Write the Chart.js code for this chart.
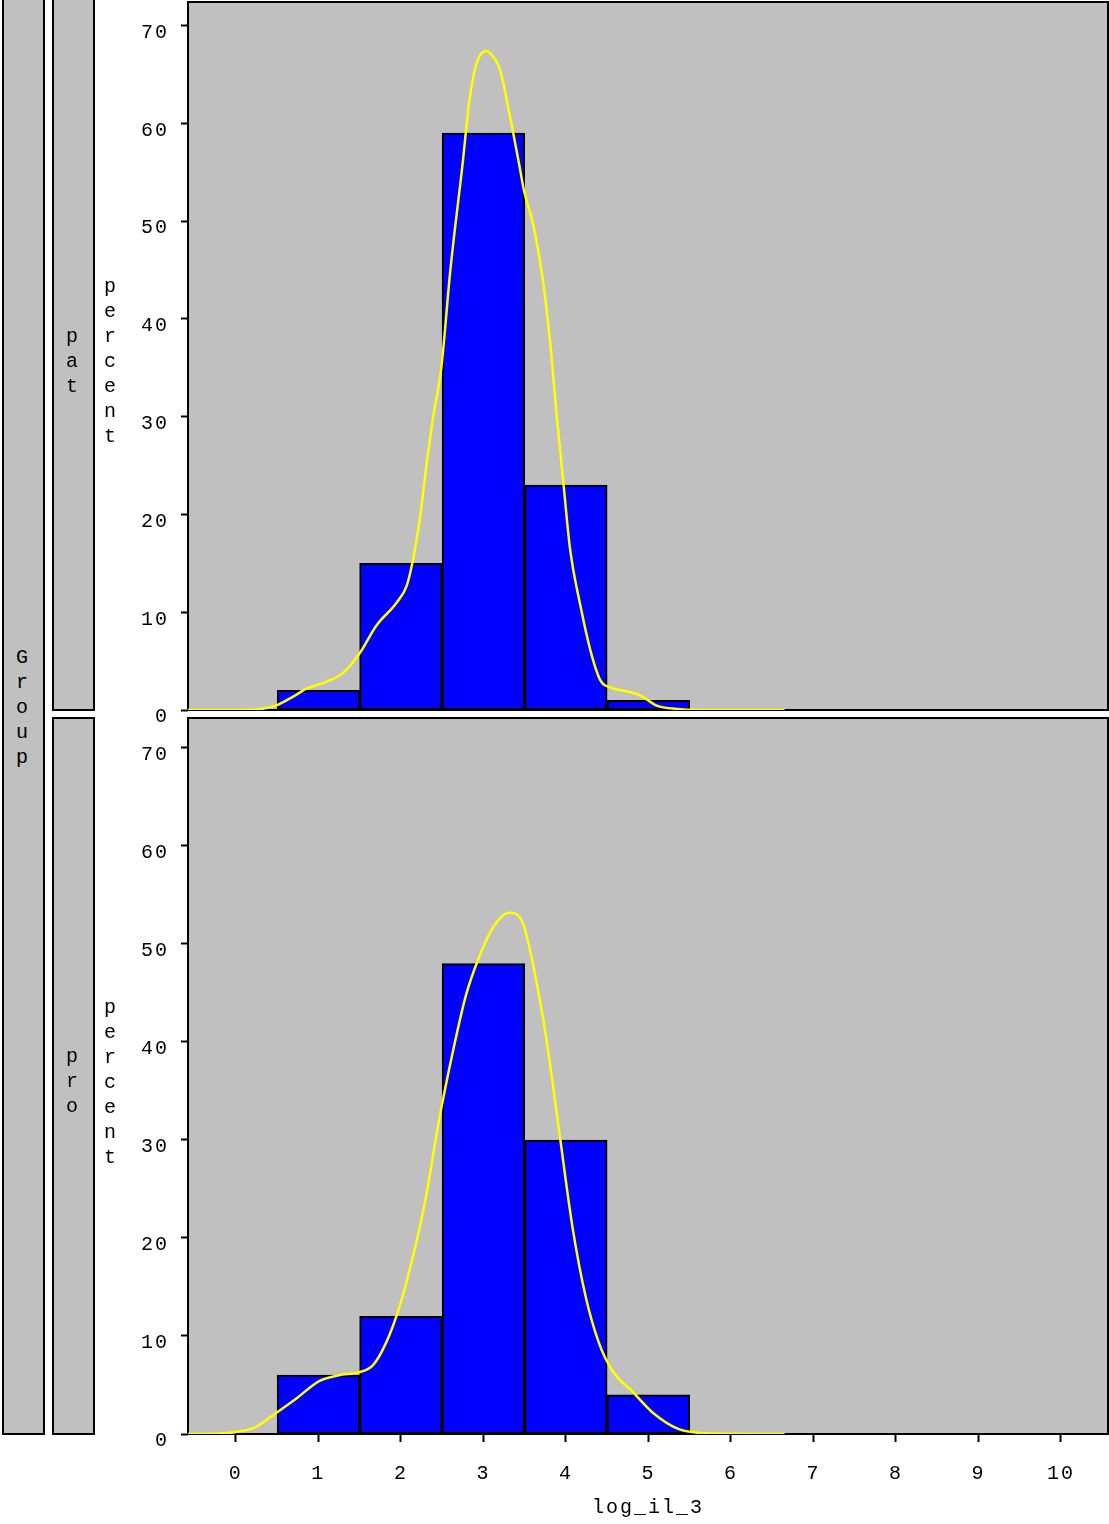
<!DOCTYPE html>
<html>
<head>
<meta charset="utf-8">
<script src="https://cdn.jsdelivr.net/npm/chart.js@4.4.0/dist/chart.umd.min.js"></script>
<style>
body { margin: 0; background: #fff; }
#wrap { position: relative; width: 1109px; height: 1524px; overflow: hidden; font-family: "Liberation Mono", monospace; }
canvas { position: absolute; left: 0; }
.strip { position: absolute; box-sizing: border-box; border: 2px solid #000; background: #c0c0c0; }
.vtext { position: absolute; width: 12px; word-break: break-all; text-align: center; font-size: 20px; line-height: 25px; color: #000; }
</style>
</head>
<body>
<div id="wrap">
  <canvas id="top-panel" width="1109" height="726" style="top:0px"></canvas>
  <canvas id="bottom-panel" width="1109" height="808" style="top:716px"></canvas>

  <div class="strip" style="left:2px;top:-2px;width:43px;height:1437px"></div>
  <div class="strip" style="left:52px;top:-2px;width:43px;height:713px"></div>
  <div class="strip" style="left:52px;top:717px;width:43px;height:718px"></div>

  <div class="vtext" style="left:16px;top:645px">Group</div>
  <div class="vtext" style="left:66px;top:324px">pat</div>
  <div class="vtext" style="left:66px;top:1044px">pro</div>
  <div class="vtext" style="left:104px;top:274px">percent</div>
  <div class="vtext" style="left:104px;top:995px">percent</div>
</div>

<script>
// Histogram of log_il_3 by Group

const xTicks = [0, 1, 2, 3, 4, 5, 6, 7, 8, 9, 10];
const yTicks = [0, 10, 20, 30, 40, 50, 60, 70];

// bin midpoints (bin width 1)
const binMids = [1, 2, 3, 4, 5];
const patPercent = [2, 15, 59, 23, 1];
const proPercent = [6, 12, 48, 30, 4];

// density curves
const patCurveX = [-0.58, 0, 0.3, 0.5, 0.7, 0.86, 1.1, 1.3, 1.5, 1.7, 1.95, 2.07, 2.15, 2.23, 2.31, 2.39, 2.49, 2.6, 2.75, 2.83, 2.92, 3.03, 3.12, 3.2, 3.32, 3.44, 3.49, 3.61, 3.73, 3.81, 3.89, 3.97, 4.05, 4.18, 4.3, 4.42, 4.54, 4.74, 4.9, 5.1, 5.35, 5.6, 6.65];
const patCurveY = [0, 0, 0.1, 0.5, 1.4, 2.2, 2.9, 3.8, 5.8, 8.6, 11, 12.7, 15.5, 19.6, 25, 29.9, 35, 45, 56, 62.3, 66.2, 67.4, 66.8, 65.5, 60.8, 55.5, 53.2, 49.4, 43.4, 37.5, 30, 23.2, 16.5, 10.5, 6, 3, 2.3, 1.9, 1.5, 0.45, 0.1, 0, 0];

const proCurveX = [-0.58, -0.2, 0, 0.24, 0.48, 0.73, 1.01, 1.25, 1.49, 1.66, 1.82, 1.98, 2.14, 2.3, 2.46, 2.63, 2.79, 2.95, 3.11, 3.31, 3.47, 3.59, 3.76, 3.92, 4.08, 4.24, 4.4, 4.56, 4.81, 5.05, 5.37, 5.8, 6.65];
const proCurveY = [0, 0.05, 0.2, 0.7, 2.1, 3.6, 5.4, 6.0, 6.3, 7.0, 9.3, 12.9, 17.9, 24, 31.9, 39, 44.8, 48.7, 51.6, 53.2, 52.3, 48.4, 40.5, 30.8, 21.1, 14, 9.3, 6.5, 4.3, 2.2, 0.5, 0.05, 0];

const tickFont = { family: 'Liberation Mono', size: 20 };

// gray panel with black frame
const panelBox = {
    id: 'panelBox',
    beforeDraw(chart) {
        const { ctx, chartArea: a } = chart;
        ctx.save();
        ctx.fillStyle = '#c0c0c0';
        ctx.fillRect(a.left, a.top, a.width, a.height);
        ctx.restore();
        ctx.letterSpacing = '2px';
    },
    beforeDatasetsDraw(chart) {
        const { ctx, chartArea: a } = chart;
        ctx.save();
        ctx.strokeStyle = '#000';
        ctx.lineWidth = 2;
        ctx.strokeRect(a.left, a.top, a.width, a.height);
        ctx.restore();
    }
};

function noPad(s) {
    s.paddingTop = 0;
    s.paddingBottom = 0;
    s.paddingLeft = 0;
    s.paddingRight = 0;
}

function makePanel(id, percents, curveX, curveY, yMax, showX) {
    const ctx = document.getElementById(id).getContext('2d');
    return new Chart(ctx, {
        type: 'bar',
        data: {
            datasets: [{
                type: 'line',
                data: curveX.map((x, i) => ({ x: x, y: curveY[i] })),
                borderColor: '#ffff00',
                borderWidth: 2.5,
                pointRadius: 0,
                fill: false,
                cubicInterpolationMode: 'monotone',
                order: 1
            }, {
                type: 'bar',
                data: binMids.map((x, i) => ({ x: x, y: percents[i] })),
                backgroundColor: '#0000ff',
                borderColor: '#000',
                borderWidth: 2,
                borderSkipped: false,
                barPercentage: 1,
                categoryPercentage: 1,
                order: 2
            }]
        },
        options: {
            responsive: false,
            animation: false,
            layout: { padding: { top: 2, right: 1, bottom: showX ? 0 : 16, left: 0 } },
            plugins: { legend: { display: false }, tooltip: { enabled: false } },
            scales: {
                x: {
                    type: 'linear',
                    min: -0.58,
                    max: 10.57,
                    offset: false,
                    display: showX,
                    afterBuildTicks: s => { s.ticks = xTicks.map(v => ({ value: v })); },
                    afterFit: s => { s.height = showX ? 90 : 0; noPad(s); },
                    grid: { offset: false, drawOnChartArea: false, tickLength: 8, tickColor: '#000', tickWidth: 2 },
                    border: { display: false },
                    ticks: { color: '#000', font: tickFont, padding: 20, maxRotation: 0, autoSkip: false },
                    title: { display: true, text: 'log_il_3', color: '#000', font: tickFont, padding: { top: 0, bottom: 4 } }
                },
                y: {
                    min: 0,
                    max: yMax,
                    afterBuildTicks: s => { s.ticks = yTicks.map(v => ({ value: v })); },
                    afterFit: s => { s.width = 188; noPad(s); },
                    grid: { drawOnChartArea: false, tickLength: 7, tickColor: '#000', tickWidth: 2 },
                    border: { display: false },
                    ticks: { color: '#000', font: tickFont, padding: 12, labelOffset: 7 }
                }
            }
        },
        plugins: [panelBox]
    });
}

makePanel('top-panel', patPercent, patCurveX, patCurveY, 72.4, false);
makePanel('bottom-panel', proPercent, proCurveX, proCurveY, 73.06, true);
</script>
</body>
</html>
